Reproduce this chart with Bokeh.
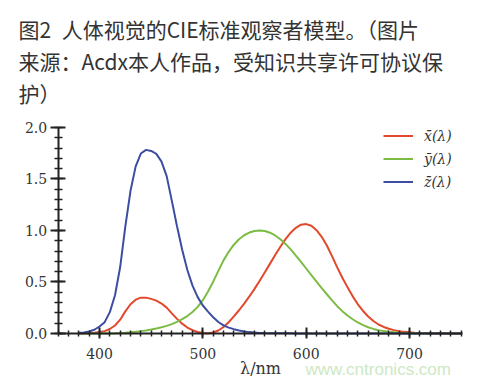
from bokeh.plotting import figure
from bokeh.models import Range1d, Label, SingleIntervalTicker, Legend, LegendItem, NumeralTickFormatter
from bokeh.embed import file_html
from bokeh.resources import INLINE

# CIE 1931 2-degree standard observer colour matching functions (5 nm steps)
wavelength = [380, 385, 390, 395, 400, 405, 410, 415, 420, 425, 430, 435, 440, 445, 450, 455,
              460, 465, 470, 475, 480, 485, 490, 495, 500, 505, 510, 515, 520, 525, 530, 535,
              540, 545, 550, 555, 560, 565, 570, 575, 580, 585, 590, 595, 600, 605, 610, 615,
              620, 625, 630, 635, 640, 645, 650, 655, 660, 665, 670, 675, 680, 685, 690, 695,
              700, 705, 710, 715, 720, 725, 730, 735, 740, 745, 750]
x_bar = [0.001368, 0.002236, 0.004243, 0.007650, 0.014310, 0.023190, 0.043510, 0.077630,
         0.134380, 0.214770, 0.283900, 0.328500, 0.348280, 0.348060, 0.336200, 0.318700,
         0.290800, 0.251100, 0.195360, 0.142100, 0.095640, 0.057950, 0.032010, 0.014700,
         0.004900, 0.002400, 0.009300, 0.029100, 0.063270, 0.109600, 0.165500, 0.225750,
         0.290400, 0.359700, 0.433450, 0.512050, 0.594500, 0.678400, 0.762100, 0.842500,
         0.916300, 0.978600, 1.026300, 1.056700, 1.062200, 1.045600, 1.002600, 0.938400,
         0.854450, 0.751400, 0.642400, 0.541900, 0.447900, 0.360800, 0.283500, 0.218700,
         0.164900, 0.121200, 0.087400, 0.063600, 0.046770, 0.032900, 0.022700, 0.015840,
         0.011359, 0.008111, 0.005790, 0.004109, 0.002899, 0.002049, 0.001440, 0.001000,
         0.000690, 0.000476, 0.000332]
y_bar = [0.000039, 0.000064, 0.000120, 0.000217, 0.000396, 0.000640, 0.001210, 0.002180,
         0.004000, 0.007300, 0.011600, 0.016840, 0.023000, 0.029800, 0.038000, 0.048000,
         0.060000, 0.073900, 0.090980, 0.112600, 0.139020, 0.169300, 0.208020, 0.258600,
         0.323000, 0.407300, 0.503000, 0.608200, 0.710000, 0.793200, 0.862000, 0.914850,
         0.954000, 0.980000, 0.994950, 1.000000, 0.995000, 0.978600, 0.952000, 0.915400,
         0.870000, 0.816300, 0.757000, 0.694900, 0.631000, 0.566800, 0.503000, 0.441200,
         0.381000, 0.321000, 0.265000, 0.217000, 0.175000, 0.138200, 0.107000, 0.081600,
         0.061000, 0.044580, 0.032000, 0.023200, 0.017000, 0.011920, 0.008210, 0.005723,
         0.004102, 0.002929, 0.002091, 0.001484, 0.001047, 0.000740, 0.000520, 0.000361,
         0.000249, 0.000172, 0.000120]
z_bar = [0.006450, 0.010550, 0.020050, 0.036210, 0.067850, 0.110200, 0.207400, 0.371300,
         0.645600, 1.039050, 1.385600, 1.622960, 1.747060, 1.782600, 1.772110, 1.744100,
         1.669200, 1.528100, 1.287640, 1.041900, 0.812950, 0.616200, 0.465180, 0.353300,
         0.272000, 0.212300, 0.158200, 0.111700, 0.078250, 0.057250, 0.042160, 0.029840,
         0.020300, 0.013400, 0.008750, 0.005750, 0.003900, 0.002750, 0.002100, 0.001800,
         0.001650, 0.001400, 0.001100, 0.001000, 0.000800, 0.000600, 0.000340, 0.000240,
         0.000190, 0.000100, 0.000050, 0.000030, 0.000020, 0.000010, 0.0, 0.0,
         0.0, 0.0, 0.0, 0.0, 0.0, 0.0, 0.0, 0.0,
         0.0, 0.0, 0.0, 0.0, 0.0, 0.0, 0.0, 0.0,
         0.0, 0.0, 0.0]

legend_labels = ["x\u0304(\u03bb)", "y\u0304(\u03bb)", "z\u0304(\u03bb)"]
title_lines = ["图2\u2002人体视觉的CIE标准观察者模型。（图片",
               "来源：Acdx本人作品，受知识共享许可协议保",
               "护）"]
x_axis_label = "\u03bb/nm"
watermark = "www.cntronics.com"
x_bounds = (360, 751)
y_bounds = (0, 2.0)

colors = ["#e2492c", "#7cbc45", "#3d4ea2"]

W, H = 482, 379
p = figure(frame_width=W, frame_height=H, output_backend="svg", toolbar_location=None,
           min_border_left=0, min_border_right=0, min_border_top=0, min_border_bottom=0,
           x_range=Range1d(304.2, 770.6), y_range=Range1d(-0.4466, 3.233))
p.outline_line_color = None
p.xgrid.visible = False
p.ygrid.visible = False
p.background_fill_color = "white"
p.border_fill_color = "white"

renderers = []
for ys, c in zip([x_bar, y_bar, z_bar], colors):
    r = p.line(wavelength, ys, line_color=c, line_width=2)
    renderers.append(r)

legend = Legend(items=[LegendItem(label=l, renderers=[r]) for l, r in zip(legend_labels, renderers)],
                location=(383, 189), border_line_color=None, background_fill_alpha=0,
                glyph_width=30, glyph_height=17, label_text_font="DejaVu Serif",
                label_text_font_style="italic", label_text_font_size="14px",
                label_text_color="#333333", spacing=6, margin=0, padding=0, label_standoff=11)
p.add_layout(legend)

axis_color = "#222222"
for ax in (p.xaxis[0], p.yaxis[0]):
    ax.axis_line_color = axis_color
    ax.axis_line_width = 2
    ax.major_tick_line_color = axis_color
    ax.major_tick_line_width = 2
    ax.minor_tick_line_color = axis_color
    ax.minor_tick_line_width = 1.5
    ax.major_label_text_font = "DejaVu Serif"
    ax.major_label_text_font_size = "14px"
    ax.major_label_text_color = "#333333"

p.xaxis.fixed_location = y_bounds[0]
p.yaxis.fixed_location = x_bounds[0]
p.xaxis.bounds = x_bounds
p.yaxis.bounds = y_bounds
p.xaxis.ticker = SingleIntervalTicker(interval=100, num_minor_ticks=10)
p.yaxis.ticker = SingleIntervalTicker(interval=0.5, num_minor_ticks=5)
p.xaxis.major_tick_out = 5
p.xaxis.major_tick_in = 6
p.xaxis.minor_tick_out = 3
p.xaxis.minor_tick_in = 3
p.yaxis.major_tick_out = 8
p.yaxis.major_tick_in = 7
p.yaxis.minor_tick_out = 4
p.yaxis.minor_tick_in = 4
p.xaxis.major_label_standoff = 9
p.yaxis.major_label_standoff = 3
p.yaxis.formatter = NumeralTickFormatter(format="0.0")

p.xaxis.axis_label = x_axis_label
p.xaxis.axis_label_text_font = "DejaVu Serif"
p.xaxis.axis_label_text_font_style = "normal"
p.xaxis.axis_label_text_font_size = "16px"
p.xaxis.axis_label_text_color = "#333333"
p.xaxis.axis_label_standoff = -3

for i, t in enumerate(title_lines):
    p.add_layout(Label(x=18, y=H - 13 - 32 * i, x_units="screen", y_units="screen",
                       text=t, text_font="Noto Sans CJK SC", text_font_size="21px",
                       text_color="#333333", text_baseline="top", text_align="left"))

p.add_layout(Label(x=305, y=H - 369, x_units="screen", y_units="screen", text=watermark,
                   text_font="Liberation Sans", text_font_size="17px",
                   text_color="#cde8c4", text_baseline="alphabetic", text_align="left"))

open("out.html", "w").write(file_html(p, INLINE))
